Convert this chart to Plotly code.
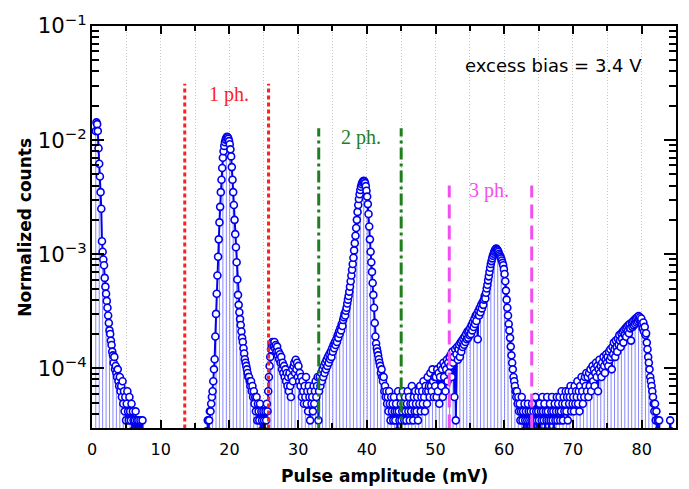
import numpy as np
import plotly.graph_objects as go

BIN_WIDTH_MV = 0.1  # histogram bin width (mV); bins start at 0 mV

# Normalized counts per bin, in units of 1e-6 (0 = empty bin), one list per 10 mV
norm_0_10 = [
    0, 0, 0, 0, 0, 12000, 14300, 13800, 12000, 8500,
    6200, 4800, 3500, 2500, 1300, 1050, 900, 800, 620, 520,
    450, 390, 340, 290, 250, 215, 200, 175, 160, 140,
    130, 112, 126, 98, 105, 91, 84, 98, 77, 70,
    84, 63, 70, 56, 77, 49, 63, 42, 56, 35,
    49, 63, 42, 35, 56, 42, 35, 49, 28, 42,
    35, 21, 35, 42, 14, 35, 21, 35, 14, 28,
    35, 7, 21, 35, 14, 7, 0, 0, 0, 0,
    0, 0, 0, 0, 0, 0, 0, 0, 0, 0,
    0, 0, 0, 0, 0, 0, 0, 0, 0, 0,
]
norm_10_20 = [
    0, 0, 0, 0, 0, 0, 0, 0, 0, 0,
    0, 0, 0, 0, 0, 0, 0, 0, 0, 0,
    0, 0, 0, 0, 0, 0, 0, 0, 0, 0,
    0, 0, 0, 0, 0, 0, 0, 0, 0, 0,
    0, 0, 0, 0, 0, 0, 0, 0, 0, 0,
    0, 0, 0, 0, 0, 0, 0, 0, 0, 0,
    0, 0, 7, 14, 21, 14, 28, 21, 35, 28,
    35, 42, 42, 49, 56, 63, 77, 98, 120, 190,
    300, 450, 650, 950, 1350, 1900, 2600, 3500, 4500, 5700,
    7000, 8000, 8900, 9600, 10100, 10500, 10700, 10600, 10300, 9800,
]
norm_20_30 = [
    9200, 8300, 7200, 5800, 4500, 3500, 2700, 2000, 1500, 1150,
    850, 600, 440, 360, 310, 270, 240, 210, 185, 170,
    150, 135, 120, 112, 105, 98, 91, 84, 84, 77,
    70, 77, 63, 70, 56, 63, 49, 56, 42, 56,
    35, 49, 42, 35, 49, 28, 42, 35, 21, 42,
    35, 28, 42, 35, 49, 42, 63, 84, 105, 126,
    147, 160, 170, 165, 155, 170, 150, 160, 140, 155,
    130, 140, 120, 133, 112, 126, 98, 112, 91, 105,
    84, 98, 77, 91, 70, 84, 63, 91, 70, 56,
    84, 98, 77, 105, 112, 91, 119, 98, 112, 84,
]
norm_30_40 = [
    105, 77, 91, 70, 84, 56, 77, 63, 49, 70,
    56, 84, 49, 63, 42, 70, 56, 35, 63, 49,
    56, 42, 70, 49, 63, 77, 56, 70, 84, 35,
    63, 84, 70, 91, 77, 98, 84, 105, 91, 112,
    98, 119, 105, 126, 112, 133, 120, 140, 126, 150,
    140, 160, 150, 170, 160, 180, 170, 195, 185, 210,
    200, 225, 215, 245, 235, 265, 280, 300, 290, 320,
    340, 370, 400, 430, 470, 520, 580, 650, 730, 820,
    930, 1080, 1250, 1450, 1700, 2000, 2350, 2700, 3050, 3350,
    3650, 3900, 4100, 4250, 4350, 4400, 4350, 4200, 3950, 3600,
]
norm_40_50 = [
    3200, 2750, 2250, 1750, 1350, 1050, 850, 700, 560, 440,
    340, 250, 190, 165, 150, 140, 130, 120, 112, 105,
    91, 98, 84, 77, 84, 63, 70, 56, 63, 49,
    56, 42, 63, 49, 35, 56, 42, 49, 35, 56,
    42, 35, 49, 42, 28, 63, 42, 35, 56, 49,
    35, 42, 63, 49, 35, 56, 42, 35, 49, 63,
    42, 56, 35, 49, 42, 70, 49, 35, 56, 42,
    63, 49, 42, 56, 35, 63, 49, 70, 42, 56,
    63, 49, 77, 56, 42, 70, 63, 49, 84, 63,
    70, 56, 91, 70, 63, 98, 77, 56, 84, 70,
]
norm_50_60 = [
    84, 56, 98, 63, 91, 49, 84, 105, 70, 98,
    56, 112, 84, 105, 63, 98, 119, 77, 112, 91,
    126, 105, 133, 84, 140, 112, 126, 56, 147, 35,
    133, 154, 119, 147, 161, 126, 168, 140, 175, 154,
    182, 161, 190, 170, 200, 180, 210, 185, 215, 195,
    225, 200, 240, 215, 255, 230, 270, 245, 290, 260,
    300, 180, 320, 290, 340, 310, 360, 335, 380, 360,
    400, 430, 410, 460, 500, 540, 590, 640, 700, 760,
    820, 870, 920, 970, 1010, 1050, 1080, 1110, 1120, 1100,
    1080, 1050, 1010, 980, 950, 920, 880, 840, 800, 740,
]
norm_60_70 = [
    670, 580, 480, 400, 340, 290, 245, 215, 185, 155,
    130, 112, 98, 84, 77, 70, 63, 56, 63, 49,
    56, 42, 49, 35, 42, 56, 35, 42, 28, 49,
    35, 42, 21, 35, 49, 42, 35, 28, 42, 35,
    49, 35, 42, 28, 35, 56, 42, 35, 21, 42,
    35, 49, 28, 42, 35, 56, 42, 35, 49, 28,
    42, 35, 56, 42, 35, 28, 49, 35, 42, 56,
    35, 42, 28, 49, 35, 42, 56, 35, 49, 42,
    56, 35, 42, 63, 49, 35, 56, 42, 49, 63,
    42, 56, 35, 63, 49, 56, 70, 42, 63, 49,
]
norm_70_80 = [
    56, 42, 70, 49, 63, 56, 77, 49, 63, 42,
    70, 56, 84, 63, 49, 77, 56, 84, 70, 91,
    63, 84, 56, 91, 70, 98, 63, 84, 105, 77,
    98, 70, 91, 112, 84, 105, 63, 98, 119, 91,
    105, 84, 112, 98, 126, 105, 91, 119, 133, 112,
    126, 105, 140, 119, 147, 126, 98, 154, 133, 168,
    147, 126, 175, 154, 140, 182, 161, 196, 175, 154,
    203, 182, 210, 168, 217, 196, 224, 189, 231, 210,
    238, 203, 245, 224, 175, 252, 231, 259, 238, 266,
    245, 273, 252, 280, 259, 287, 266, 280, 259, 273,
]
norm_80_85 = [
    245, 224, 252, 210, 231, 196, 203, 168, 147, 126,
    112, 98, 84, 77, 70, 63, 56, 49, 42, 49,
    35, 42, 28, 35, 21, 35, 14, 21, 7, 14,
    0, 7, 0, 0, 7, 0, 14, 7, 0, 14,
    21, 35, 28, 14, 7, 0, 0, 0, 0, 0,
]

# Photon-peak selection windows
window_labels = ["1 ph.", "2 ph.", "3 ph."]
window_left = [13.5, 33.0, 52.0]
window_right = [25.7, 45.0, 64.0]
window_top = [3.12e-2, 1.27e-2, 4.0e-3]
window_colors = ["#ff1f1f", "#1f7f1f", "#f050f0"]
window_dash = ["4px,3px", "12px,4px,3px,4px", "14px,7px"]
label_pos = [(0.234, 0.829), (0.460, 0.722), (0.679, 0.590)]

segments = [norm_0_10, norm_10_20, norm_20_30, norm_30_40, norm_40_50,
            norm_50_60, norm_60_70, norm_70_80, norm_80_85]
vals = np.concatenate([np.asarray(s, dtype=float) for s in segments]) * 1e-6
x = (np.arange(len(vals)) + 0.5) * BIN_WIDTH_MV
y = [v if v > 0 else None for v in vals]

fig = go.Figure()

# light-blue stems
sx, sy = [], []
for i in range(0, len(vals), 5):
    if vals[i] > 0:
        sx += [x[i], x[i], None]
        sy += [1e-7, vals[i], None]
fig.add_trace(go.Scatter(x=sx, y=sy, mode="lines",
                         line=dict(color="rgba(95,95,255,0.75)", width=1),
                         hoverinfo="skip", showlegend=False))

# data: line + open circles
fig.add_trace(go.Scatter(x=x, y=y, mode="lines+markers",
                         line=dict(color="#0000ee", width=2),
                         marker=dict(symbol="circle", size=7, color="white",
                                     line=dict(color="#0000ee", width=1.6)),
                         connectgaps=False, showlegend=False))

# selection window lines
for lab, xl, xr, top, col, dash in zip(window_labels, window_left, window_right,
                                        window_top, window_colors, window_dash):
    for xv in (xl, xr):
        fig.add_trace(go.Scatter(x=[xv, xv], y=[1e-6, top], mode="lines",
                                 line=dict(color=col, width=3, dash=dash),
                                 hoverinfo="skip", showlegend=False))

annotations = []
for lab, col, (px, py) in zip(window_labels, window_colors, label_pos):
    annotations.append(dict(text=lab, x=px, y=py, xref="paper", yref="paper",
                            showarrow=False, xanchor="center", yanchor="middle",
                            font=dict(family="Liberation Serif", size=20, color=col)))
annotations.append(dict(text="excess bias = 3.4 V", x=0.790, y=0.902,
                        xref="paper", yref="paper", showarrow=False,
                        xanchor="center", yanchor="middle",
                        font=dict(family="DejaVu Sans", size=18, color="black")))
annotations.append(dict(text="<b>Pulse amplitude (mV)</b>", x=0.5, y=-0.119,
                        xref="paper", yref="paper", showarrow=False,
                        xanchor="center", yanchor="middle",
                        font=dict(family="DejaVu Sans", size=17, color="black")))
annotations.append(dict(text="<b>Normalized counts</b>", x=-0.115, y=0.5,
                        xref="paper", yref="paper", showarrow=False, textangle=-90,
                        xanchor="center", yanchor="middle",
                        font=dict(family="DejaVu Sans", size=17, color="black")))

GRID = "#c4c4c4"
fig.update_layout(
    width=689, height=489,
    margin=dict(l=92, r=11, t=18, b=61),
    paper_bgcolor="white", plot_bgcolor="white",
    annotations=annotations,
    xaxis=dict(range=[0, 85], tick0=0, dtick=10, ticks="inside", ticklen=8,
               tickwidth=2, tickcolor="black", showline=True, linewidth=2,
               linecolor="black", mirror="allticks", zeroline=False,
               showgrid=True, gridcolor=GRID, griddash="1px,2px", gridwidth=1,
               ticklabelstandoff=6,
               tickfont=dict(family="DejaVu Sans", size=16, color="black"),
               minor=dict(dtick=5, tick0=0, ticks="inside", ticklen=5, tickwidth=1.5,
                          tickcolor="black", showgrid=True, gridcolor=GRID,
                          griddash="1px,2px", gridwidth=1)),
    yaxis=dict(type="log", range=[np.log10(3e-5), -1], dtick=1,
               exponentformat="power", ticks="inside", ticklen=12, tickwidth=2,
               tickcolor="black", showline=True, linewidth=2, linecolor="black",
               mirror="allticks", showgrid=False, zeroline=False,
               tickfont=dict(family="DejaVu Sans", size=17, color="black"),
               minor=dict(ticks="inside", ticklen=7, tickwidth=1.5,
                          tickcolor="black", showgrid=False)),
)

fig.write_html("out.html", config={"displayModeBar": False})
